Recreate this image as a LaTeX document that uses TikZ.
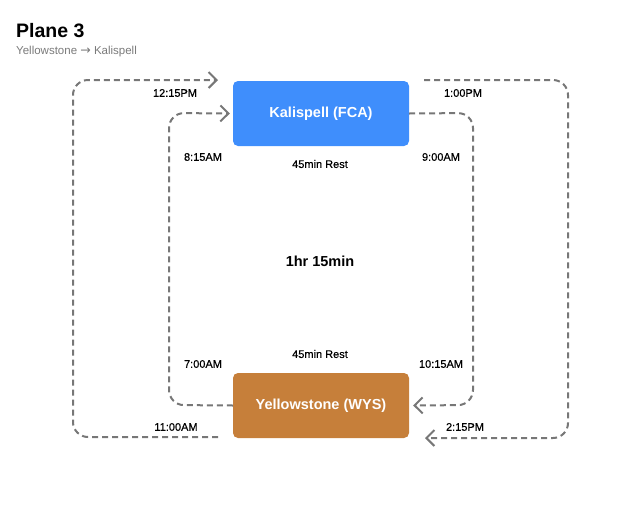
\documentclass[tikz,border=0pt]{standalone}
\usepackage{fontspec}
\setmainfont{Liberation Sans}
\newfontfamily\medfont[FakeBold=0.5]{Liberation Sans}
\newfontfamily\arrfont{DejaVu Sans}
\usetikzlibrary{arrows.meta}
\definecolor{kblue}{HTML}{3F8EFC}
\definecolor{ybrown}{HTML}{C67F3A}
\definecolor{lgrey}{HTML}{777777}
\definecolor{tgrey}{HTML}{7A7A7A}
\tikzset{
  airport/.style={draw=none, rounded corners=5pt, minimum width=176pt, minimum height=65pt, text=white, font=\fontsize{14.5}{16}\selectfont\bfseries, inner sep=0pt},
  flow/.style={draw=lgrey, line width=2pt, dash pattern=on 6pt off 4pt, rounded corners=15pt},
  tip/.style={-{Straight Barb[length=8pt,width=16pt,line width=2pt]}},
  tlabel/.style={font=\fontsize{11}{12}\selectfont\medfont, inner sep=0pt, text=black},
}
\begin{document}
\begin{tikzpicture}[x=1pt,y=-1pt]
\useasboundingbox (0,0) rectangle (638,520);
\node[airport, fill=kblue] (fca) at (321,113.5) {Kalispell (FCA)};
\node[airport, fill=ybrown] (wys) at (321,405.5) {Yellowstone (WYS)};
\node[anchor=base west, inner sep=0pt, font=\fontsize{19.5}{22}\selectfont\bfseries] (title) at (16,37) {Plane 3};
\node[anchor=base west, inner sep=0pt, font=\fontsize{11.5}{13}\selectfont, text=tgrey] (sub) at (16,54) {Yellowstone {\arrfont\fontsize{12.5}{13}\selectfont →} Kalispell};
% outer loop left
\coordinate (o1) at (218,437);
\coordinate (o2) at (218,80);
\draw[flow, tip] (o1) -- (73,437) -- (73,80) -- (o2);
% inner loop left
\draw[flow, tip] (wys.west) -- (169,405) -- (169,113) -- ([xshift=-3pt]fca.west);
% outer right
\coordinate (o3) at (424,80);
\coordinate (o4) at (425,438);
\draw[flow, tip] (o3) -- (568,80) -- (568,438) -- (o4);
% inner right
\draw[flow, tip] (fca.east) -- (473,113) -- (473,405) -- ([xshift=4pt]wys.east);
% labels
\node[tlabel] (l1) at (175,93) {12:15PM};
\node[tlabel] (l2) at (203,157) {8:15AM};
\node[tlabel] (l3) at (463,93) {1:00PM};
\node[tlabel] (l4) at (441,157) {9:00AM};
\node[tlabel] (l5) at (203,364) {7:00AM};
\node[tlabel] (l6) at (176,427) {11:00AM};
\node[tlabel] (l7) at (441,364) {10:15AM};
\node[tlabel] (l8) at (465,427) {2:15PM};
\node[tlabel] (r1) at (320,164) {45min Rest};
\node[tlabel] (r2) at (320,354) {45min Rest};
\node[inner sep=0pt, font=\fontsize{14.5}{16}\selectfont\bfseries] (dur) at (320,261) {1hr 15min};
\end{tikzpicture}
\end{document}
